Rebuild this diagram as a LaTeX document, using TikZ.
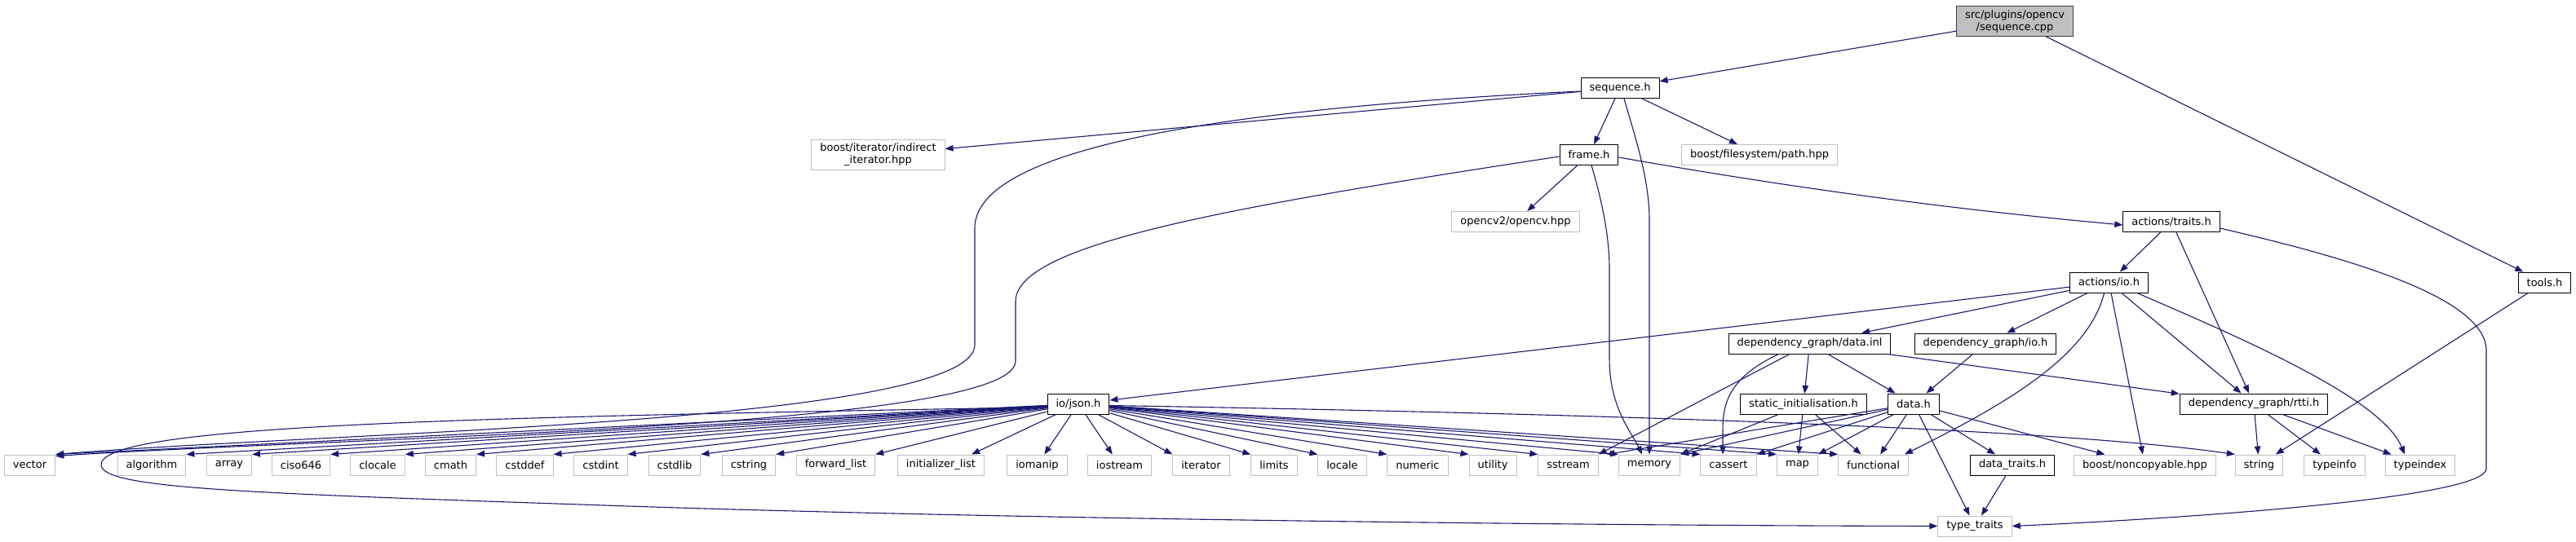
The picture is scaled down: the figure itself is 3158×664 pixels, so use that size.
\documentclass[tikz,border=0pt]{standalone}
\usepackage{fontspec}
\setmainfont{DejaVu Sans}
\usepackage{tikz}
\usetikzlibrary{arrows.meta}
\definecolor{EdgeBlue}{HTML}{191970}
\definecolor{BoxGrey}{HTML}{BFBFBF}
\definecolor{RootEdge}{HTML}{404040}

\begin{document}
\begin{tikzpicture}[
    x=1pt, y=-1pt,
    hdr/.style={draw=black, line width=1pt, fill=white, inner xsep=10.5pt, inner ysep=4.5pt,
      minimum height=25pt, align=center, font=\fontsize{13}{15}\selectfont},
    ext/.style={hdr, draw=BoxGrey},
    root/.style={hdr, draw=RootEdge, fill=BoxGrey},
    arr/.style={-{Triangle[length=10pt, width=7.5pt]}, line width=1.1pt, draw=EdgeBlue}
  ]
    \useasboundingbox (0,0) rectangle (3158,664);

    % project files
    \node[root] (cpp) at (2470,26) {src/plugins/opencv\\/sequence.cpp};
    \node[hdr] (seqh) at (1986,108) {sequence.h};
    \node[ext] (indirect) at (1076.5,190) {boost/iterator/indirect\\\_iterator.hpp};
    \node[hdr] (frame) at (1948,190) {frame.h};
    \node[ext] (fspath) at (2157,190) {boost/filesystem/path.hpp};
    \node[ext] (opencv) at (1858,272) {opencv2/opencv.hpp};
    \node[hdr] (traits) at (2662,272) {actions/traits.h};
    \node[hdr] (aio) at (2585.5,346.5) {actions/io.h};
    \node[hdr] (tools) at (3119.5,346.5) {tools.h};
    \node[hdr] (datainl) at (2218.5,421.5) {dependency\_graph/data.inl};
    \node[hdr] (dgio) at (2434,421.5) {dependency\_graph/io.h};
    \node[hdr] (json) at (1322,495.5) {io/json.h};
    \node[hdr] (sinit) at (2211,496) {static\_initialisation.h};
    \node[hdr] (datah) at (2346,495.5) {data.h};
    \node[hdr] (rtti) at (2763,495.5) {dependency\_graph/rtti.h};

    % system headers
    \node[ext] (vector) at (36.5,570.5) {vector};
    \node[ext] (algorithm) at (186,570.5) {algorithm};
    \node[ext] (array) at (281,570.5) {array};
    \node[ext] (ciso) at (369,570.5) {ciso646};
    \node[ext] (clocale) at (463,570.5) {clocale};
    \node[ext] (cmath) at (552.5,570.5) {cmath};
    \node[ext] (cstddef) at (643.5,570.5) {cstddef};
    \node[ext] (cstdint) at (736.5,570.5) {cstdint};
    \node[ext] (cstdlib) at (827,570.5) {cstdlib};
    \node[ext] (cstring) at (918,570.5) {cstring};
    \node[ext] (fwdlist) at (1024.5,570.5) {forward\_list};
    \node[ext] (initlist) at (1153.5,570.5) {initializer\_list};
    \node[ext] (iomanip) at (1271.5,570.5) {iomanip};
    \node[ext] (iostream) at (1372.5,570.5) {iostream};
    \node[ext] (iterator) at (1472.5,570.5) {iterator};
    \node[ext] (limits) at (1562,570.5) {limits};
    \node[ext] (locale) at (1645.5,570.5) {locale};
    \node[ext] (numeric) at (1738,570.5) {numeric};
    \node[ext] (utility) at (1830,570.5) {utility};
    \node[ext] (sstream) at (1922.5,570.5) {sstream};
    \node[ext] (memory) at (2022,570.5) {memory};
    \node[ext] (cassert) at (2119,570.5) {cassert};
    \node[ext] (map) at (2203.5,570.5) {map};
    \node[ext] (functional) at (2296.5,570.5) {functional};
    \node[hdr] (dtraits) at (2467,570.5) {data\_traits.h};
    \node[ext] (noncopy) at (2629.5,570.5) {boost/noncopyable.hpp};
    \node[ext] (string) at (2769.5,570.5) {string};
    \node[ext] (typeinfo) at (2862,570.5) {typeinfo};
    \node[ext] (typeindex) at (2967,570.5) {typeindex};
    \node[ext] (ttraits) at (2421,645.5) {type\_traits};

    % sequence.cpp
    \draw[arr] (cpp) -- (seqh);
    \draw[arr] (cpp) -- (tools);

    % sequence.h
    \draw[arr] (seqh) -- (indirect);
    \draw[arr] (seqh) -- (frame);
    \draw[arr] (seqh) -- (fspath);
    \draw[arr] ([xshift=5pt]seqh.south) .. controls (2005,170) and (2022,220) .. (2022,270) -- (memory);
    \draw[arr] ([yshift=-4pt]seqh.west) .. controls (1450,135) and (1195,190) .. (1195,280) -- (1195,423)
      .. controls (1195,520) and (400,530) .. (vector.north east);

    % frame.h
    \draw[arr] (frame) -- (opencv);
    \draw[arr] ([yshift=-3pt]frame.east) .. controls (2250,240) and (2450,262) .. ([yshift=-4pt]traits.west);
    \draw[arr] ([xshift=3pt]frame.south) .. controls (1968,260) and (1973,300) .. (1973,330) -- (1973,440)
      .. controls (1973,500) and (2000,530) .. ([xshift=-9pt]memory.north);
    \draw[arr] ([yshift=-2pt]frame.west) .. controls (1500,255) and (1245,300) .. (1245,370) -- (1245,443)
      .. controls (1245,525) and (450,535) .. ([yshift=-2pt]vector.north east);

    % actions/traits.h
    \draw[arr] (traits) -- (aio);
    \draw[arr] (traits) -- (rtti);
    \draw[arr] ([yshift=-8pt]traits.east) .. controls (2850,310) and (3048,360) .. (3048,430) -- (3048,575)
      .. controls (3048,610) and (2700,635) .. (ttraits.east);

    % tools.h
    \draw[arr] (tools) -- (string);

    % actions/io.h
    \draw[arr] (aio) -- (json);
    \draw[arr] (aio) -- (datainl);
    \draw[arr] (aio) -- (dgio);
    \draw[arr] ([xshift=-6pt]aio.south) .. controls (2560,440) and (2450,500) .. ([xshift=-5pt]functional.north east);
    \draw[arr] (aio) -- (noncopy);
    \draw[arr] (aio) -- (rtti);
    \draw[arr] ([xshift=-14pt]aio.south east) .. controls (2760,420) and (2920,490) .. ([xshift=-19pt]typeindex.north);

    % dependency_graph/data.inl
    \draw[arr] (datainl) -- (sstream.north east);
    \draw[arr] ([xshift=-38pt]datainl.south) .. controls (2115,465) and (2112,500) .. (2112,530) -- ([xshift=-7pt]cassert.north);
    \draw[arr] (datainl) -- (sinit);
    \draw[arr] (datainl) -- (datah);
    \draw[arr] (datainl) -- (rtti);

    % dependency_graph/io.h
    \draw[arr] (dgio) -- (datah);

    % static_initialisation.h
    \draw[arr] (sinit) -- (memory.north east);
    \draw[arr] (sinit) -- (map);
    \draw[arr] (sinit) -- (functional);

    % data.h
    \draw[arr] (datah) -- ([xshift=10pt]sstream.north east);
    \draw[arr] (datah) -- (memory.north east);
    \draw[arr] (datah) -- (cassert.north east);
    \draw[arr] (datah) -- (map.north east);
    \draw[arr] (datah) -- (functional);
    \draw[arr] (datah) -- (dtraits);
    \draw[arr] (datah) -- (noncopy);
    \draw[arr] (datah) -- (ttraits);
    \draw[arr] (dtraits) -- (ttraits);

    % dependency_graph/rtti.h
    \draw[arr] (rtti) -- (string);
    \draw[arr] (rtti) -- (typeinfo);
    \draw[arr] (rtti) -- (typeindex);

    % io/json.h
    \draw[arr] (json) -- (vector.north east);
    \draw[arr] (json) -- (algorithm.north east);
    \draw[arr] (json) -- (array.north east);
    \draw[arr] (json) -- (ciso.north east);
    \draw[arr] (json) -- (clocale.north east);
    \draw[arr] (json) -- (cmath.north east);
    \draw[arr] (json) -- (cstddef.north east);
    \draw[arr] (json) -- (cstdint.north east);
    \draw[arr] (json) -- (cstdlib.north east);
    \draw[arr] (json) -- (cstring.north east);
    \draw[arr] (json) -- (fwdlist.north east);
    \draw[arr] (json) -- ([xshift=-16pt]initlist.north east);
    \draw[arr] (json) -- (iomanip);
    \draw[arr] (json) -- (iostream);
    \draw[arr] (json) -- (iterator.north west);
    \draw[arr] (json) -- (limits.north west);
    \draw[arr] (json) -- (locale.north west);
    \draw[arr] (json) -- (numeric.north west);
    \draw[arr] (json) -- (utility.north west);
    \draw[arr] (json) -- (sstream.north west);
    \draw[arr] (json) -- (memory.north west);
    \draw[arr] (json) -- (cassert.north west);
    \draw[arr] (json) -- (map.north west);
    \draw[arr] (json) -- (functional.north west);
    \draw[arr] ([yshift=-2pt]json.east) .. controls (2100,510) and (2550,530) .. (string.north west);
    \draw[arr] ([yshift=-4pt]json.west) .. controls (600,512) and (125,520) .. (124,570)
      .. controls (124,600) and (300,605) .. (800,622) .. controls (1300,638) and (2000,645) .. (ttraits.west);
  \end{tikzpicture}
\end{document}
